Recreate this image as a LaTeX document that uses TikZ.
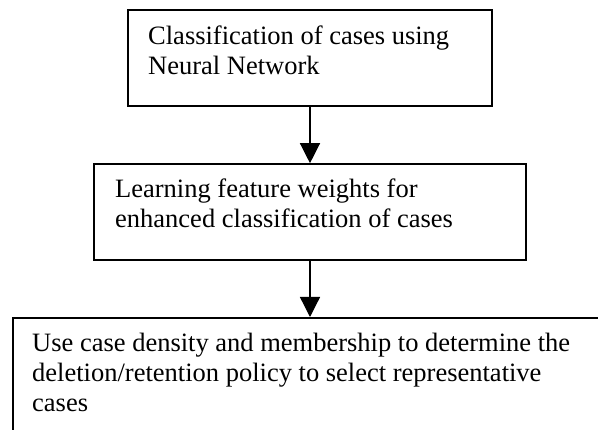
\documentclass[tikz,border=0pt]{standalone}
\usepackage{fontspec}
\setmainfont{Liberation Serif}
\usetikzlibrary{arrows.meta}
\begin{document}
\begin{tikzpicture}[x=1pt,y=-1pt,
  stagebox/.style={draw=black,line width=1.6pt,inner sep=0pt},
  stagetext/.style={anchor=base west,inner sep=0pt,align=left,
    font=\fontsize{26.5pt}{30pt}\selectfont},
  flow/.style={line width=1.3pt,-{Triangle[length=20pt,width=20pt]}}]
  \clip (0,0) rectangle (598,430);
  \fill[white] (0,0) rectangle (598,430);

  % first stage (text anchored on the baseline of its last line)
  \node[stagebox,minimum width=364pt,minimum height=96pt] (b1) at (310,58) {};
  \node[stagetext] (t1) at (148,75) {Classification of cases using\\Neural Network};

  % second stage
  \node[stagebox,minimum width=432pt,minimum height=96pt] (b2) at (310,212) {};
  \node[stagetext] (t2) at (115,228) {Learning feature weights for\\enhanced classification of cases};

  % third stage, running past the right and bottom edges
  \node[stagebox,anchor=north west,minimum width=620pt,minimum height=140pt] (b3) at (12,317) {};
  \node[stagetext] (t3) at (32,412) {Use case density and membership to determine the\\deletion/retention policy to select representative\\cases};

  % connectors
  \draw[flow] (b1.south) -- (b2.north);
  \draw[flow] (b2.south) -- (b2.south |- b3.north);
\end{tikzpicture}
\end{document}
